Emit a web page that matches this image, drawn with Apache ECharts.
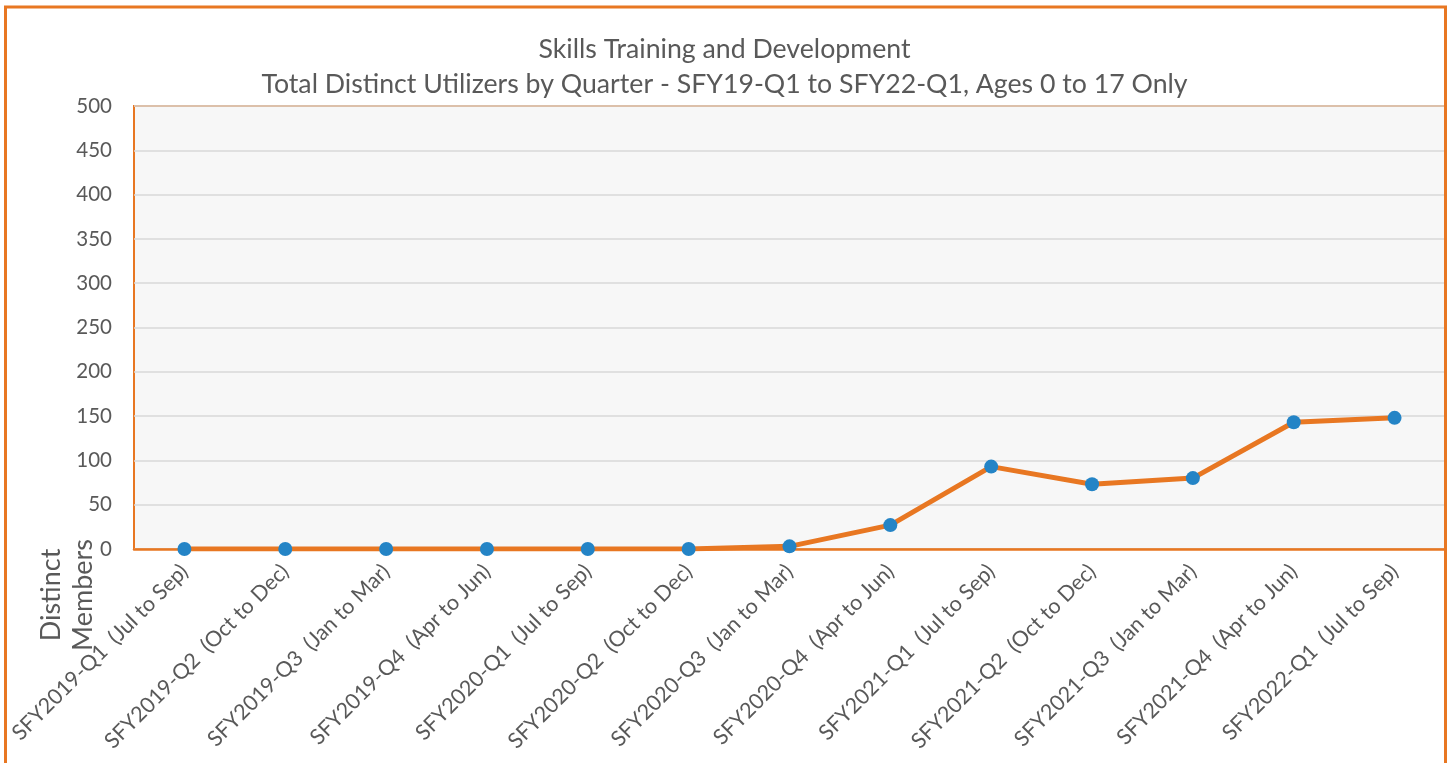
<!DOCTYPE html>
<html><head><meta charset="utf-8">
<script src="https://cdn.jsdelivr.net/npm/echarts@6/dist/echarts.min.js"></script>
<style>html,body{margin:0;padding:0;background:#fff;}#c{width:1449px;height:763px;}</style>
</head><body><div id="c"></div>
<script>
const categories = [
  'SFY2019-Q1  (Jul to Sep)','SFY2019-Q2  (Oct to Dec)','SFY2019-Q3  (Jan to Mar)','SFY2019-Q4  (Apr to Jun)',
  'SFY2020-Q1  (Jul to Sep)','SFY2020-Q2  (Oct to Dec)','SFY2020-Q3  (Jan to Mar)','SFY2020-Q4  (Apr to Jun)',
  'SFY2021-Q1  (Jul to Sep)','SFY2021-Q2  (Oct to Dec)','SFY2021-Q3  (Jan to Mar)','SFY2021-Q4  (Apr to Jun)',
  'SFY2022-Q1  (Jul to Sep)'
];
const members = [0, 0, 0, 0, 0, 0, 3, 27, 93, 73, 80, 143, 148];
const titleLines = ['Skills Training and Development', 'Total Distinct Utilizers by Quarter - SFY19-Q1 to SFY22-Q1, Ages 0 to 17 Only'];
const yAxisName = ['Distinct', 'Members'];

const FONT = 'Lato, "Open Sans", sans-serif';
const chart = echarts.init(document.getElementById('c'));
chart.setOption({
  animation: false,
  textStyle: {fontFamily: FONT},
  title: {
    text: titleLines.join('\n'), left: 'center', top: 27,
    textStyle: {fontFamily: FONT, fontSize: 26.7, fontWeight: 'normal', color: '#595959', lineHeight: 35}
  },
  grid: {left: 134, right: 4, top: 106, bottom: 214, show: true, backgroundColor: '#F7F7F7', borderColor: '#E87722', borderWidth: 2},
  xAxis: {
    type: 'category', data: categories, boundaryGap: true,
    axisLine: {lineStyle: {color: '#E87722', width: 2.5}},
    axisTick: {show: false},
    axisLabel: {rotate: 45, color: '#595959', fontSize: 21.5, margin: 19, interval: 0, fontFamily: FONT}
  },
  yAxis: {
    type: 'value', min: 0, max: 500, interval: 50,
    axisLine: {show: false}, axisTick: {show: false},
    splitLine: {lineStyle: {color: '#D9D9D9', width: 1.5}},
    axisLabel: {color: '#595959', fontSize: 20.5, margin: 22, fontFamily: FONT}
  },
  series: [{
    type: 'line', data: members, symbol: 'circle', symbolSize: 14,
    lineStyle: {color: '#E87722', width: 5},
    itemStyle: {color: '#2484C6'}
  }],
  graphic: [
    {type: 'rect', shape: {x: 5.5, y: 7, width: 1440, height: 800}, style: {fill: null, stroke: '#E87722', lineWidth: 3}, z: 100},
    {type: 'text', x: 67, y: 595, rotation: Math.PI / 2,
     style: {text: yAxisName.join('\n'), fill: '#595959', font: '27px ' + FONT, align: 'center', verticalAlign: 'middle', lineHeight: 32}}
  ]
});
</script></body></html>
